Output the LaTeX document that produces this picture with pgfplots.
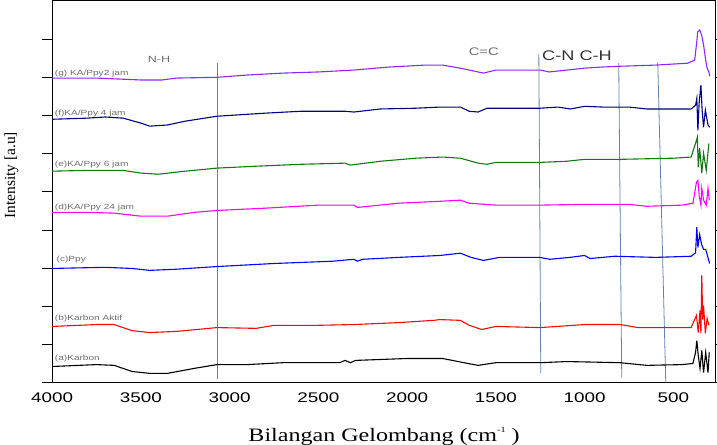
\documentclass[border=0pt]{standalone}
\usepackage{fontspec}
\setmainfont{Liberation Serif}
\newfontfamily\arial{Liberation Sans}
\usepackage{graphicx}
\usepackage{pgfplots}
\pgfplotsset{compat=1.18}
\definecolor{cg}{RGB}{140,40,255}
\definecolor{cf}{RGB}{0,0,128}
\definecolor{ce}{RGB}{20,120,20}
\definecolor{cd}{RGB}{255,0,255}
\definecolor{cc}{RGB}{0,0,255}
\definecolor{cb}{RGB}{245,10,10}
\definecolor{ca}{RGB}{0,0,0}
\definecolor{vl}{RGB}{100,130,180}
\definecolor{lbl}{RGB}{110,110,110}
\newcommand{\lab}[1]{{\arial\fontsize{7.5}{8}\selectfont\scalebox{1.35}[1]{#1}}}
\begin{document}
\begin{tikzpicture}
\begin{axis}[
  scale only axis,
  width=663bp, height=381bp,
  xmin=260, xmax=4000, x dir=reverse,
  ymin=0, ymax=10,
  xtick={4000,3500,3000,2500,2000,1500,1000,500},
  xticklabels={\scalebox{1.35}[1]{4000},\scalebox{1.35}[1]{3500},\scalebox{1.35}[1]{3000},\scalebox{1.35}[1]{2500},\scalebox{1.35}[1]{2000},\scalebox{1.35}[1]{1500},\scalebox{1.35}[1]{1000},\scalebox{1.35}[1]{500}},
  xticklabel style={font=\arial\fontsize{14}{14}\selectfont, yshift=3bp},
  xtick style={draw=none},
  ytick={0,1,...,9},
  yticklabels={},
  tick align=outside,
  ytick style={line width=0.8bp, black},
  major tick length=10bp,
  axis line style={line width=1bp},
  xlabel={\scalebox{1.27}[1]{Bilangan Gelombang (cm\raisebox{1.1ex}{\fontsize{8}{8}\selectfont -1} )}},
  xlabel style={at={(axis description cs:0.5,-0.155)}, anchor=base, font=\fontsize{19}{20}\selectfont},
  ylabel={Intensity [a.u]},
  ylabel style={at={(axis description cs:-0.0557,0.543)}, anchor=base, font=\fontsize{15.5}{16}\selectfont},
  clip=false,
  every axis plot/.append style={line width=1.1bp},
]
% vertical reference lines
\addplot[vl, line width=0.8bp] coordinates {(3071,8.37) (3071,0.1)};
\addplot[vl, line width=0.8bp] coordinates {(1258,8.6) (1247,0.24)};
\addplot[vl, line width=0.8bp] coordinates {(808,8.37) (791,0.13)};
\addplot[vl, line width=0.8bp] coordinates {(588,8.4) (543,0)};
% (g)
\addplot[cg] coordinates {(4000,7.98) (3750,7.98) (3600,7.95) (3500,7.93) (3380,7.93) (3300,7.98) (3071,8.0) (2900,8.06) (2700,8.11) (2500,8.14) (2300,8.19) (2100,8.27) (1900,8.32) (1800,8.32) (1700,8.24) (1600,8.14) (1570,8.11) (1500,8.19) (1350,8.19) (1250,8.19) (1200,8.14) (1100,8.19) (1000,8.24) (900,8.27) (800,8.29) (600,8.32) (420,8.37) (380,8.45) (369,8.9) (363,9.19) (352,9.24) (341,9.11) (330,8.85) (318,8.45) (310,8.24) (300,8.14) (295,8.03)};
% (f)
\addplot[cf] coordinates {(4000,6.90) (3800,6.93) (3700,6.96) (3600,6.93) (3500,6.80) (3450,6.72) (3350,6.75) (3250,6.85) (3071,6.98) (2800,7.06) (2600,7.11) (2350,7.11) (2300,7.09) (2150,7.17) (1950,7.19) (1816,7.22) (1700,7.22) (1650,7.11) (1600,7.09) (1550,7.19) (1250,7.19) (1150,7.22) (1080,7.17) (1000,7.24) (900,7.22) (750,7.22) (650,7.17) (400,7.17) (375,7.27) (368,7.45) (362,6.61) (355,7.32) (345,7.80) (338,7.14) (330,6.69) (320,7.14) (305,6.75) (295,6.69)};
% (e)
\addplot[ce] coordinates {(4000,5.54) (3800,5.56) (3600,5.56) (3500,5.49) (3400,5.46) (3250,5.54) (3071,5.62) (2850,5.67) (2600,5.72) (2350,5.75) (2320,5.70) (2150,5.80) (1950,5.88) (1800,5.91) (1700,5.88) (1600,5.75) (1550,5.72) (1500,5.77) (1250,5.77) (1100,5.80) (1000,5.85) (800,5.85) (500,5.88) (400,5.91) (370,6.35) (365,6.43) (360,5.64) (352,6.14) (340,5.49) (330,6.01) (315,5.56) (300,6.27)};
% (d)
\addplot[cd] coordinates {(4000,4.46) (3800,4.46) (3650,4.44) (3500,4.36) (3350,4.36) (3200,4.46) (3071,4.51) (2800,4.57) (2500,4.65) (2300,4.65) (2280,4.59) (2050,4.70) (1816,4.75) (1700,4.78) (1650,4.70) (1500,4.65) (1250,4.65) (1000,4.67) (750,4.67) (650,4.62) (450,4.65) (390,4.70) (370,5.25) (362,5.30) (355,4.91) (345,4.65) (340,5.09) (330,4.78) (315,4.65) (305,5.09) (298,4.78)};
% (c)
\addplot[cc] coordinates {(4000,2.99) (3700,3.02) (3550,2.99) (3450,2.94) (3300,2.97) (3071,3.04) (2750,3.12) (2420,3.18) (2300,3.23) (2280,3.18) (2250,3.23) (2050,3.28) (1816,3.33) (1700,3.39) (1640,3.28) (1570,3.20) (1480,3.28) (1253,3.28) (1196,3.23) (1084,3.28) (1000,3.33) (970,3.25) (830,3.31) (600,3.28) (400,3.31) (375,3.40) (368,4.07) (362,3.54) (352,3.88) (341,3.62) (330,3.49) (318,3.49) (310,3.36) (296,3.12)};
% (b)
\addplot[cb] coordinates {(4000,1.47) (3750,1.52) (3650,1.52) (3550,1.36) (3450,1.31) (3300,1.34) (3071,1.44) (2850,1.42) (2750,1.50) (2500,1.50) (2300,1.52) (2050,1.57) (1850,1.63) (1816,1.65) (1700,1.63) (1650,1.50) (1580,1.39) (1500,1.47) (1250,1.44) (1000,1.52) (800,1.52) (700,1.44) (400,1.44) (370,1.76) (360,1.31) (350,1.89) (345,1.29) (340,2.81) (335,1.65) (330,2.02) (320,1.29) (310,1.68) (300,1.50)};
% (a)
\addplot[ca] coordinates {(4000,0.42) (3750,0.47) (3650,0.45) (3550,0.29) (3450,0.24) (3350,0.24) (3200,0.37) (3071,0.47) (2900,0.47) (2700,0.52) (2380,0.52) (2350,0.58) (2320,0.52) (2290,0.58) (2000,0.63) (1800,0.63) (1680,0.52) (1600,0.45) (1500,0.52) (1250,0.52) (1100,0.55) (800,0.52) (650,0.45) (450,0.47) (390,0.50) (375,0.79) (368,1.10) (360,0.71) (350,0.37) (340,0.84) (330,0.26) (318,0.79) (305,0.26) (298,0.79)};
% curve labels
\node[anchor=base west, inner sep=0, text=lbl] at (axis cs:3985,8.06) {\lab{(g) KA/Ppy2 jam}};
\node[anchor=base west, inner sep=0, text=lbl] at (axis cs:3985,7.01) {\lab{(f)KA/Ppy 4 jam}};
\node[anchor=base west, inner sep=0, text=lbl] at (axis cs:3985,5.67) {\lab{(e)KA/Ppy 6 jam}};
\node[anchor=base west, inner sep=0, text=lbl] at (axis cs:3985,4.54) {\lab{(d)KA/Ppy 24 jam}};
\node[anchor=base west, inner sep=0, text=lbl] at (axis cs:3975,3.18) {\lab{(c)Ppy}};
\node[anchor=base west, inner sep=0, text=lbl] at (axis cs:3985,1.63) {\lab{(b)Karbon Aktif}};
\node[anchor=base west, inner sep=0, text=lbl] at (axis cs:3985,0.58) {\lab{(a)Karbon}};
% band labels
\node[anchor=base, inner sep=0, text=lbl] at (axis cs:3398,8.40) {\arial\fontsize{9}{10}\selectfont\scalebox{1.4}[1]{N-H}};
\node[anchor=base, inner sep=0, text=lbl] at (axis cs:1568,8.56) {\arial\fontsize{11}{12}\selectfont\scalebox{1.35}[1]{C=C}};
\node[anchor=base west, inner sep=0, text={rgb,255:red,50;green,50;blue,50}] at (axis cs:1240,8.43) {\arial\fontsize{14}{15}\selectfont\scalebox{1.3}[1]{C-N C-H}};
\end{axis}
\pgfresetboundingbox
\path ([shift={(-52bp,-62bp)}]current axis.south west) rectangle ([shift={(1bp,1bp)}]current axis.north east);
\end{tikzpicture}
\end{document}
